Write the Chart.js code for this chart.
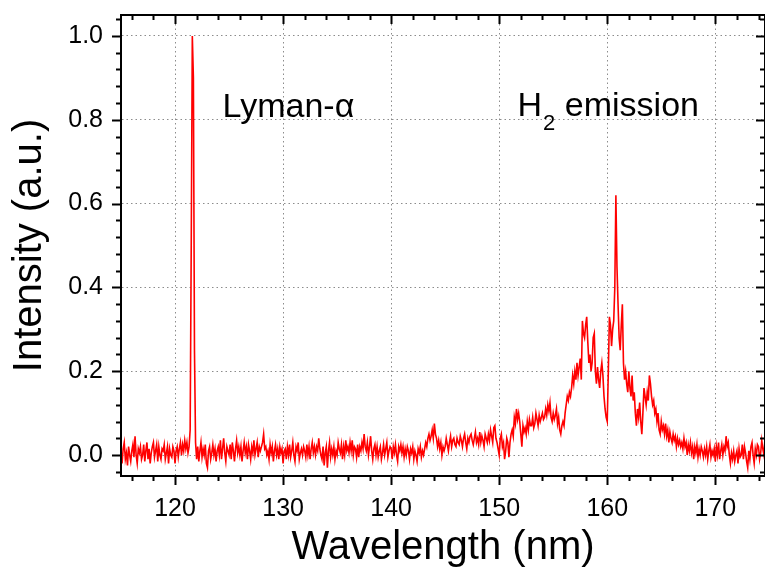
<!DOCTYPE html>
<html>
<head>
    <script src="https://cdn.jsdelivr.net/npm/chart.js"></script>
    <style>
        body { margin: 0; background: #fff; }
    </style>
</head>
<body>
    <canvas id="spectrumChart" width="765" height="568"></canvas>
    <script>
        // sampling grid of the spectrometer (nm)
        const startNm = 115.0;
        const stepNm = 0.1;

        // measured intensity, one row = 1 nm (x.0 ... x.9)
        const intensity = [
            0.01, -0.02, 0.015, 0.03, -0.01, 0.005, -0.025, 0.02, 0.0, -0.015,      // 115
            0.01, 0.025, -0.005, 0.045, 0.0, -0.02, 0.015, 0.005, 0.02, -0.01,      // 116
            0.0, 0.025, -0.015, 0.01, 0.03, -0.01, 0.015, -0.02, 0.005, 0.02,       // 117
            0.03, -0.005, 0.01, 0.025, -0.015, 0.02, 0.0, -0.01, 0.015, 0.01,       // 118
            0.025, -0.01, 0.005, 0.02, -0.02, 0.015, 0.0, -0.005, 0.02, 0.01,       // 119
            -0.02, 0.01, 0.02, -0.005, 0.015, 0.03, 0.0, 0.025, 0.01, 0.035,        // 120
            0.015, 0.03, 0.005, 0.02, 0.06, 0.5, 1.0, 0.9, 0.25, 0.03,              // 121
            -0.01, 0.02, -0.015, 0.01, 0.03, -0.005, 0.015, 0.0, 0.025, -0.02,      // 122
            -0.03, 0.01, 0.02, -0.01, 0.005, 0.025, 0.0, 0.015, -0.015, 0.01,       // 123
            0.02, 0.0, 0.035, -0.01, 0.015, 0.04, 0.005, -0.015, 0.02, 0.01,        // 124
            0.0, 0.025, -0.01, 0.03, 0.01, -0.015, 0.015, 0.035, 0.005, 0.02,       // 125
            0.0, 0.02, -0.015, 0.01, 0.03, 0.005, 0.02, -0.01, 0.025, 0.01,         // 126
            -0.01, 0.02, 0.005, 0.035, 0.0, 0.015, 0.03, -0.005, 0.02, 0.01,        // 127
            0.02, 0.03, 0.05, 0.015, 0.02, 0.0, 0.01, -0.01, 0.025, 0.005,          // 128
            0.02, -0.015, 0.01, 0.025, 0.0, 0.015, -0.01, 0.02, 0.005, 0.015,       // 129
            -0.02, 0.01, 0.015, -0.01, 0.02, 0.0, 0.025, -0.005, 0.01, 0.03,        // 130
            0.0, -0.015, 0.02, 0.01, 0.03, -0.01, 0.005, 0.015, 0.0, 0.02,          // 131
            0.01, -0.005, 0.025, 0.0, 0.02, -0.01, 0.015, 0.03, 0.005, 0.02,        // 132
            0.0, 0.02, 0.01, 0.04, 0.015, 0.0, -0.01, 0.02, -0.025, 0.005,          // 133
            0.02, -0.03, 0.01, 0.03, -0.005, 0.015, 0.0, 0.02, -0.01, 0.01,         // 134
            0.0, 0.03, 0.015, 0.005, 0.025, -0.01, 0.02, 0.0, 0.035, 0.01,          // 135
            0.02, 0.005, 0.03, 0.01, 0.035, 0.0, 0.02, 0.015, -0.005, 0.025,        // 136
            -0.005, 0.02, 0.01, 0.03, 0.015, 0.05, 0.02, 0.01, 0.03, 0.0,           // 137
            0.02, 0.045, 0.01, -0.01, 0.015, 0.025, 0.0, 0.02, -0.005, 0.01,        // 138
            0.02, -0.01, 0.005, 0.025, 0.0, 0.015, 0.03, -0.005, 0.01, 0.02,        // 139
            0.015, -0.01, 0.02, 0.005, 0.025, 0.0, -0.015, 0.02, 0.01, 0.025,       // 140
            0.005, 0.02, -0.005, 0.015, 0.0, 0.02, 0.01, -0.01, 0.015, 0.005,       // 141
            0.02, -0.01, 0.01, 0.0, -0.015, 0.015, 0.005, 0.02, -0.005, 0.01,       // 142
            0.0, 0.015, 0.03, 0.02, 0.04, 0.05, 0.035, 0.045, 0.06, 0.04,           // 143
            0.075, 0.05, 0.04, 0.02, 0.035, 0.015, 0.03, 0.0, 0.02, 0.01,           // 144
            0.02, 0.04, 0.025, 0.01, 0.03, 0.045, 0.02, 0.035, 0.04, 0.025,         // 145
            0.02, 0.04, 0.03, 0.025, 0.045, 0.035, 0.02, 0.04, 0.05, 0.03,          // 146
            0.015, 0.04, 0.03, 0.045, 0.05, 0.035, 0.025, 0.04, 0.055, 0.03,        // 147
            0.04, 0.025, 0.055, 0.03, 0.045, 0.035, 0.02, 0.05, 0.04, 0.03,         // 148
            0.05, 0.035, 0.06, 0.045, 0.03, 0.065, 0.07, 0.04, 0.03, 0.015,         // 149
            0.0, 0.04, 0.05, 0.02, 0.03, -0.01, 0.01, 0.04, 0.03, -0.005,           // 150
            0.03, 0.05, 0.06, 0.045, 0.09, 0.075, 0.11, 0.085, 0.1, 0.08,           // 151
            0.05, 0.02, 0.07, 0.055, 0.065, 0.05, 0.08, 0.06, 0.085, 0.07,          // 152
            0.07, 0.09, 0.065, 0.075, 0.1, 0.085, 0.07, 0.095, 0.08, 0.09,          // 153
            0.1, 0.085, 0.09, 0.11, 0.095, 0.12, 0.105, 0.125, 0.09, 0.08,          // 154
            0.1, 0.085, 0.095, 0.11, 0.075, 0.09, 0.06, 0.05, 0.07, 0.08,           // 155
            0.07, 0.1, 0.12, 0.14, 0.13, 0.15, 0.14, 0.16, 0.19, 0.17,              // 156
            0.2, 0.18, 0.22, 0.19, 0.21, 0.23, 0.18, 0.32, 0.29, 0.28,              // 157
            0.31, 0.33, 0.27, 0.22, 0.24, 0.2, 0.22, 0.28, 0.29, 0.2,               // 158
            0.17, 0.21, 0.18, 0.16, 0.2, 0.22, 0.19, 0.14, 0.11, 0.09,              // 159
            0.08, 0.2, 0.33, 0.31, 0.26, 0.3, 0.32, 0.4, 0.62, 0.45,                // 160
            0.36, 0.28, 0.25, 0.31, 0.36, 0.22, 0.18, 0.2, 0.17, 0.15,              // 161
            0.2, 0.16, 0.14, 0.19, 0.13, 0.15, 0.1, 0.07, 0.11, 0.09,               // 162
            0.125, 0.08, 0.05, 0.1, 0.16, 0.14, 0.12, 0.15, 0.13, 0.19,             // 163
            0.17, 0.14, 0.12, 0.13, 0.1, 0.11, 0.08, 0.1, 0.06, 0.05,               // 164
            0.08, 0.06, 0.07, 0.05, 0.075, 0.045, 0.06, 0.03, 0.055, 0.04,          // 165
            0.03, 0.05, 0.035, 0.045, 0.02, 0.04, 0.025, 0.035, 0.02, 0.03,         // 166
            0.015, 0.04, 0.02, 0.03, 0.0, 0.025, 0.01, 0.03, 0.005, 0.02,           // 167
            -0.01, 0.02, 0.005, 0.025, -0.005, 0.015, 0.0, 0.02, 0.01, -0.005,      // 168
            0.015, 0.0, 0.02, -0.01, 0.01, 0.025, -0.005, 0.01, 0.0, 0.015,         // 169
            -0.015, 0.02, 0.0, 0.03, -0.01, 0.01, 0.025, 0.0, 0.02, 0.01,           // 170
            0.045, 0.02, 0.03, 0.0, -0.02, 0.005, -0.01, 0.01, -0.015, 0.0,         // 171
            0.01, -0.02, 0.015, -0.005, 0.0, 0.025, -0.01, 0.02, 0.005, -0.015,     // 172
            -0.03, 0.01, -0.01, 0.02, 0.03, 0.0, -0.02, 0.015, 0.0, 0.025,          // 173
            0.02, -0.01, 0.005, 0.035, 0.015, 0.0, 0.04, 0.03, 0.02, 0.01           // 174
        ];

        const xTicks = [120, 130, 140, 150, 160, 170];
        const yTicks = [0.0, 0.2, 0.4, 0.6, 0.8, 1.0];

        // peak labels, anchored in data units
        const peakLabels = [
            { text: 'Lyman-\u03b1', x: 124.4, y: 0.807 },
            { text: 'H', sub: '2', rest: ' emission', x: 151.7, y: 0.81 }
        ];

        const points = intensity.map((v, i) => ({ x: +(startNm + i * stepNm).toFixed(1), y: v }));

        const FONT = "'Liberation Sans', Arial, sans-serif";

        // frame with minor/major ticks like the original plot
        const frameTicks = {
            id: 'frameTicks',
            afterDraw(chart) {
                const { ctx, chartArea: a, scales: { x, y } } = chart;
                ctx.save();
                ctx.strokeStyle = '#000';
                ctx.lineWidth = 2;
                ctx.strokeRect(a.left, a.top, a.right - a.left, a.bottom - a.top);
                ctx.beginPath();
                for (let nm = 116; nm <= 174; nm += 2) {
                    const px = Math.round(x.getPixelForValue(nm)) + 0.5;
                    const len = nm % 10 === 0 ? 9 : 5;
                    ctx.moveTo(px, a.bottom); ctx.lineTo(px, a.bottom + len);
                    ctx.moveTo(px, a.top); ctx.lineTo(px, a.top + len);
                }
                for (let k = -1; k <= 26; k++) {
                    const py = Math.round(y.getPixelForValue(k * 0.04)) + 0.5;
                    const len = k % 5 === 0 ? 9 : 5;
                    ctx.moveTo(a.left, py); ctx.lineTo(a.left - len, py);
                    ctx.moveTo(a.right, py); ctx.lineTo(a.right - len, py);
                }
                ctx.stroke();

                ctx.fillStyle = '#000';
                ctx.textBaseline = 'alphabetic';
                ctx.textAlign = 'left';
                peakLabels.forEach(l => {
                    let px = x.getPixelForValue(l.x);
                    const py = y.getPixelForValue(l.y);
                    ctx.font = '34px ' + FONT;
                    ctx.fillText(l.text, px, py);
                    if (l.sub) {
                        px += ctx.measureText(l.text).width + 1;
                        ctx.font = '22px ' + FONT;
                        ctx.fillText(l.sub, px, py + 14);
                        px += ctx.measureText(l.sub).width;
                        ctx.font = '34px ' + FONT;
                        ctx.fillText(l.rest, px, py);
                    }
                });
                ctx.restore();
            }
        };

        const ctx = document.getElementById('spectrumChart').getContext('2d');
        const spectrumChart = new Chart(ctx, {
            type: 'line',
            data: {
                datasets: [{
                    data: points,
                    borderColor: '#ff0000',
                    borderWidth: 1.6,
                    pointRadius: 0,
                    tension: 0
                }]
            },
            plugins: [frameTicks],
            options: {
                responsive: false,
                animation: false,
                layout: { padding: { top: 15, right: 0, left: 0, bottom: 0 } },
                plugins: { legend: { display: false }, tooltip: { enabled: false } },
                scales: {
                    x: {
                        type: 'linear',
                        min: 115,
                        max: 174.6,
                        afterBuildTicks: s => { s.ticks = xTicks.map(v => ({ value: v })); },
                        afterFit: s => { s.height = 92; s.paddingLeft = 0; s.paddingRight = 0; },
                        ticks: {
                            color: '#000',
                            font: { family: FONT, size: 25 },
                            padding: 18,
                            maxRotation: 0,
                            callback: v => String(v)
                        },
                        grid: { color: '#8c8c8c', lineWidth: 1, drawTicks: false },
                        border: { display: true, color: '#000', width: 2, dash: [1.5, 3] },
                        title: {
                            display: true,
                            text: 'Wavelength (nm)',
                            color: '#000',
                            font: { family: FONT, size: 40, lineHeight: 1 },
                            padding: { top: 0, bottom: 0 }
                        }
                    },
                    y: {
                        type: 'linear',
                        min: -0.05,
                        max: 1.05,
                        afterBuildTicks: s => { s.ticks = yTicks.map(v => ({ value: v })); },
                        afterFit: s => { s.width = 121; s.paddingTop = 0; s.paddingBottom = 0; },
                        ticks: {
                            color: '#000',
                            font: { family: FONT, size: 25 },
                            padding: 18,
                            callback: v => v.toFixed(1)
                        },
                        grid: { color: '#8c8c8c', lineWidth: 1, drawTicks: false },
                        border: { display: true, color: '#000', width: 2, dash: [1.5, 3] },
                        title: {
                            display: true,
                            text: 'Intensity (a.u.)',
                            color: '#000',
                            font: { family: FONT, size: 40, lineHeight: 1 },
                            padding: { top: 10, bottom: 0 }
                        }
                    }
                }
            }
        });
    </script>
</body>
</html>
